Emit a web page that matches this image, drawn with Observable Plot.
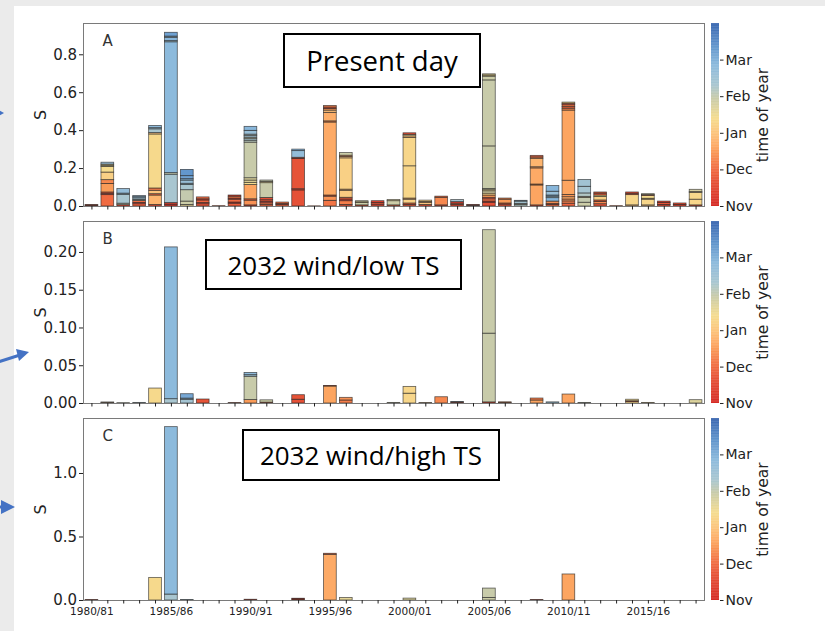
<!DOCTYPE html>
<html>
<head>
<meta charset="utf-8">
<script src="https://cdn.jsdelivr.net/npm/d3@7"></script>
<script src="https://cdn.jsdelivr.net/npm/@observablehq/plot@0.6"></script>
<style>
  html, body { margin: 0; padding: 0; }
  body { width: 825px; height: 631px; background: #ebebeb; position: relative; overflow: hidden; font-family: "DejaVu Sans", sans-serif; }
  #white { position: absolute; left: 14px; top: 6px; width: 811px; height: 625px; background: #fff; }
  .abs { position: absolute; }
  .box { position: absolute; border: 2px solid #000; background: #fff; box-sizing: border-box;
         display: flex; align-items: center; justify-content: center; font-family: "Open Sans", Lato, sans-serif; color: #000; }
</style>
</head>
<body>
<div id="white"></div>
<div id="root"></div>
<script>
// ---------- DATA ----------
const seasons = ["1980/81","1981/82","1982/83","1983/84","1984/85","1985/86","1986/87","1987/88","1988/89","1989/90",
  "1990/91","1991/92","1992/93","1993/94","1994/95","1995/96","1996/97","1997/98","1998/99","1999/00",
  "2000/01","2001/02","2002/03","2003/04","2004/05","2005/06","2006/07","2007/08","2008/09","2009/10",
  "2010/11","2011/12","2012/13","2013/14","2014/15","2015/16","2016/17","2017/18","2018/19"];
const months = ["Nov","Dec","Jan","Feb","Mar"];   // colorbar tick labels (months since 1 Nov)
const panelTitles = ["Present day","2032 wind/low TS","2032 wind/high TS"];
const panelLetters = ["A","B","C"];

// each season: stacked events [S, time of year (months since 1 Nov)], bottom to top
const panelA = [
  [[0.004,0.5],[0.004,0.8]],
  [[0.06,1.0],[0.007,0.6],[0.007,0.9],[0.045,1.5],[0.02,1.3],[0.04,2.2],[0.03,2.4],[0.006,2.6],[0.006,2.5],[0.01,3.6]],
  [[0.007,0.5],[0.008,3.0],[0.047,3.3],[0.006,3.5],[0.024,3.7]],
  [[0.012,0.8],[0.007,0.5],[0.01,1.0],[0.006,3.0],[0.008,3.4],[0.006,3.6],[0.006,3.8]],
  [[0.008,0.6],[0.05,1.8],[0.007,1.0],[0.018,2.0],[0.012,1.2],[0.285,2.35],[0.007,2.0],[0.02,3.3],[0.006,3.5],[0.012,3.8]],
  [[0.01,0.2],[0.008,0.4],[0.15,3.3],[0.008,3.0],[0.69,3.85],[0.006,3.4],[0.018,3.9],[0.006,3.5],[0.02,4.2]],
  [[0.008,2.6],[0.018,2.9],[0.06,3.0],[0.027,3.3],[0.007,3.5],[0.017,3.6],[0.007,3.8],[0.016,4.2],[0.033,4.35]],
  [[0.012,0.7],[0.006,0.4],[0.014,0.9],[0.006,0.5],[0.01,1.0]],
  [[0.002,1.0]],
  [[0.015,0.8],[0.006,0.5],[0.015,1.0],[0.006,0.5],[0.01,1.1],[0.006,0.4]],
  [[0.006,0.5],[0.025,1.4],[0.007,0.9],[0.075,1.6],[0.012,2.4],[0.012,2.6],[0.012,2.7],[0.188,2.95],[0.01,3.1],[0.008,3.3],[0.008,3.0],[0.008,3.4],[0.008,3.2],[0.02,3.6],[0.021,3.9]],
  [[0.009,0.9],[0.008,1.1],[0.008,0.5],[0.008,0.7],[0.012,0.6],[0.078,2.95],[0.007,2.5],[0.007,3.0]],
  [[0.008,0.9],[0.006,0.6],[0.007,1.1]],
  [[0.085,0.65],[0.006,0.5],[0.16,0.7],[0.006,0.6],[0.035,3.7],[0.008,3.9]],
  [[0.001,1.0]],
  [[0.03,1.1],[0.022,1.4],[0.006,1.0],[0.385,1.65],[0.006,1.3],[0.045,1.7],[0.012,1.9],[0.008,1.5],[0.008,0.8],[0.008,1.2]],
  [[0.008,0.7],[0.02,1.2],[0.009,0.5],[0.009,0.8],[0.037,2.1],[0.006,1.8],[0.165,2.2],[0.007,2.0],[0.007,1.5],[0.014,2.9]],
  [[0.006,0.8],[0.012,2.9],[0.004,2.5],[0.006,2.7]],
  [[0.01,0.5],[0.008,0.7],[0.01,0.4]],
  [[0.006,1.0],[0.022,2.9],[0.006,2.6]],
  [[0.008,0.7],[0.008,1.0],[0.02,2.2],[0.006,1.8],[0.17,2.3],[0.15,2.3],[0.008,1.9],[0.008,2.6],[0.008,0.6]],
  [[0.008,0.6],[0.01,2.0],[0.006,1.8],[0.007,2.2]],
  [[0.006,0.7],[0.04,1.3],[0.006,1.0]],
  [[0.008,0.5],[0.007,1.0],[0.008,0.4],[0.011,3.4]],
  [[0.004,3.2],[0.004,0.5]],
  [[0.02,0.6],[0.006,0.4],[0.012,1.0],[0.008,0.6],[0.012,1.5],[0.01,2.2],[0.012,2.8],[0.006,2.5],[0.006,2.7],[0.225,2.95],[0.348,2.95],[0.02,2.9],[0.006,2.4],[0.006,2.6]],
  [[0.01,0.7],[0.006,1.0],[0.02,1.5],[0.006,1.3]],
  [[0.008,3.2],[0.006,3.0],[0.012,3.4],[0.004,3.6]],
  [[0.006,0.7],[0.105,1.6],[0.005,1.4],[0.085,1.65],[0.006,1.5],[0.045,1.8],[0.007,1.2],[0.008,0.9]],
  [[0.008,1.0],[0.006,0.6],[0.012,1.4],[0.018,3.9],[0.008,3.5],[0.006,3.8],[0.02,3.6],[0.03,3.9]],
  [[0.015,0.9],[0.012,1.2],[0.01,1.4],[0.012,1.6],[0.012,1.45],[0.075,1.6],[0.37,1.6],[0.01,1.3],[0.008,0.9],[0.01,1.1],[0.008,0.6],[0.006,2.4]],
  [[0.02,2.9],[0.025,3.0],[0.006,2.6],[0.018,3.2],[0.035,3.35],[0.036,3.45]],
  [[0.012,0.7],[0.012,1.3],[0.008,0.9],[0.018,2.2],[0.008,2.4],[0.01,0.8],[0.006,1.0]],
  [[0.002,1.0]],
  [[0.006,2.0],[0.054,2.3],[0.007,1.0],[0.007,0.6]],
  [[0.006,2.0],[0.03,2.3],[0.005,2.1],[0.015,2.4],[0.004,1.0],[0.005,2.8]],
  [[0.008,0.5],[0.01,0.7],[0.008,0.4]],
  [[0.008,0.4],[0.008,0.6]],
  [[0.006,0.8],[0.03,2.3],[0.035,2.35],[0.005,2.6],[0.012,2.8]]
];
const panelB = [
  [], [[0.0008,0.6],[0.0006,2.9]], [[0.0005,3.0]], [[0.0008,3.3]], [[0.0198,2.35]],
  [[0.0057,3.3],[0.201,3.85]], [[0.005,3.4],[0.0015,3.5],[0.0058,4.1]], [[0.0053,0.7]], [], [[0.0006,1.0]],
  [[0.0045,1.5],[0.031,2.95],[0.002,3.5],[0.003,3.8]], [[0.0012,1.0],[0.003,2.9]], [], [[0.005,0.65],[0.006,0.7]], [],
  [[0.0225,1.6],[0.0008,0.8]], [[0.004,1.2],[0.0035,1.4]], [], [], [[0.0008,2.9]],
  [[0.013,2.3],[0.009,2.3]], [[0.0006,2.0]], [[0.0083,1.3]], [[0.0012,0.5],[0.0008,3.4]], [],
  [[0.0015,0.6],[0.091,2.95],[0.137,2.95]], [[0.0008,0.6],[0.0008,1.5]], [], [[0.004,1.6],[0.0026,1.2]], [[0.0015,3.5]],
  [[0.0119,1.6]], [[0.0008,3.0]], [], [], [[0.002,2.3],[0.001,0.6],[0.002,2.4]],
  [[0.0008,2.3]], [], [], [[0.0044,2.7]]
];
const panelC = [
  [[0.004,0.6]], [], [], [], [[0.178,2.35]],
  [[0.047,3.3],[1.318,3.85]], [[0.004,3.5]], [], [], [],
  [[0.006,0.5]], [], [], [[0.008,0.6],[0.006,0.4]], [],
  [[0.36,1.65],[0.008,1.0]], [[0.02,2.6]], [], [], [],
  [[0.015,2.7]], [], [], [], [],
  [[0.02,2.9],[0.074,2.95]], [], [], [[0.004,0.5]], [],
  [[0.205,1.6]], [], [], [], [],
  [], [], [], []
];
const yTicksA = [0, 0.2, 0.4, 0.6, 0.8];
const yTicksB = [0, 0.05, 0.10, 0.15, 0.20];
const yTicksC = [0, 0.5, 1.0];

// ---------- STYLE ----------
const cmapStops  = [0, 0.7, 1.0, 1.5, 1.65, 2.0, 2.4, 2.95, 3.3, 3.85, 4.4, 5.0];
const cmapColors = ["#d52b26","#e65438","#f06b42","#fa9b58","#fdaa66","#fcc47c","#f5dc8e","#c8cbaa","#a9c6d0","#8cbadc","#5f93cb","#3966b0"];
const colorScale = {type: "linear", domain: cmapStops, range: cmapColors, interpolate: "rgb"};

const panels = [
  {data: panelA, top: 0,   height: 212, mt: 23, mb: 6,  ydom: [0, 0.965], ticks: yTicksA, fmt: ".1f", labels: false,
   box: {left: 283, top: 33, w: 198, h: 55, fs: 27.5}},
  {data: panelB, top: 212, height: 200, mt: 9,  mb: 9,  ydom: [0, 0.241], ticks: yTicksB, fmt: ".2f", labels: false,
   box: {left: 205, top: 239, w: 257, h: 51, fs: 26}},
  {data: panelC, top: 412, height: 219, mt: 6,  mb: 31, ydom: [0, 1.433], ticks: yTicksC, fmt: ".1f", labels: true,
   box: {left: 242, top: 429, w: 258, h: 52, fs: 26}}
];

const root = document.getElementById("root");
const baseStyle = {background: "transparent", fontFamily: "DejaVu Sans, sans-serif", color: "#222", overflow: "visible"};

panels.forEach((p, k) => {
  const rows = [];
  p.data.forEach((list, i) => list.forEach(([S, t]) => rows.push({season: seasons[i], S, t})));

  const chart = Plot.plot({
    width: 712, height: p.height,
    marginLeft: 83, marginRight: 8, marginTop: p.mt, marginBottom: p.mb,
    style: baseStyle,
    x: {domain: seasons, paddingInner: 0.2, paddingOuter: 0.13, align: 0.5},
    y: {domain: p.ydom},
    color: colorScale,
    marks: [
      Plot.barY(rows, {x: "season", y: "S", fill: "t", stroke: "#1e1e1e", strokeOpacity: 0.7, strokeWidth: 0.8}),
      Plot.frame({stroke: "#7a7a7a", strokeWidth: 1}),
      Plot.axisX({tickSize: 3.5, tickPadding: 3.5, fontSize: 10.5, label: null,
                  tickFormat: p.labels ? (d => seasons.indexOf(d) % 5 === 0 ? d : "") : (() => "")}),
      Plot.axisY({ticks: p.ticks, tickFormat: p.fmt, tickSize: 4, tickPadding: 2.5, fontSize: 15, label: null}),
      Plot.text(["S"], {frameAnchor: "left", dx: -43, rotate: -90, textAnchor: "middle", fontSize: 16, fill: "#222"}),
      Plot.text([panelLetters[k]], {frameAnchor: "top-left", dx: 19, dy: 12, lineAnchor: "top", textAnchor: "start", fontSize: 15, fill: "#333"})
    ]
  });
  chart.classList.add("abs");
  chart.style.left = "0px"; chart.style.top = p.top + "px";
  root.appendChild(chart);

  const stripes = d3.range(0, 5, 0.02);
  const cbar = Plot.plot({
    width: 120, height: p.height,
    marginLeft: 6, marginRight: 106, marginTop: p.mt, marginBottom: p.mb,
    style: baseStyle,
    y: {domain: [0, 5]},
    color: colorScale,
    marks: [
      Plot.rect(stripes, {y1: d => d, y2: d => Math.min(5, d + 0.03), fill: d => d + 0.01}),
      Plot.axisY({anchor: "right", ticks: [0, 1, 2, 3, 4], tickFormat: d => months[d], tickSize: 3.5, tickPadding: 2.5, fontSize: 14, label: null}),
      Plot.text(["time of year"], {frameAnchor: "right", dx: 44, rotate: -90, textAnchor: "middle", fontSize: 15.5, fill: "#222"})
    ]
  });
  cbar.classList.add("abs");
  cbar.style.left = "705px"; cbar.style.top = p.top + "px";
  root.appendChild(cbar);

  const b = document.createElement("div");
  b.className = "box";
  b.style.left = p.box.left + "px"; b.style.top = p.box.top + "px";
  b.style.width = p.box.w + "px"; b.style.height = p.box.h + "px";
  b.style.fontSize = p.box.fs + "px";
  b.textContent = panelTitles[k];
  root.appendChild(b);
});

// decorative blue arrows at the left edge
const ns = "http://www.w3.org/2000/svg";
const ov = document.createElementNS(ns, "svg");
ov.setAttribute("width", 825); ov.setAttribute("height", 631);
ov.setAttribute("class", "abs"); ov.style.left = "0px"; ov.style.top = "0px"; ov.style.pointerEvents = "none";
ov.innerHTML = `
  <polygon points="-9,106 4,113 -9,120" fill="#4472c4"/>
  <line x1="-2" y1="362" x2="20" y2="355" stroke="#4472c4" stroke-width="3"/>
  <polygon points="16,349 29,352 19,361" fill="#4472c4"/>
  <line x1="-5" y1="507" x2="4" y2="507" stroke="#4472c4" stroke-width="3"/>
  <polygon points="1,500 15,507 1,514" fill="#4472c4"/>`;
document.body.appendChild(ov);
</script>
</body>
</html>
